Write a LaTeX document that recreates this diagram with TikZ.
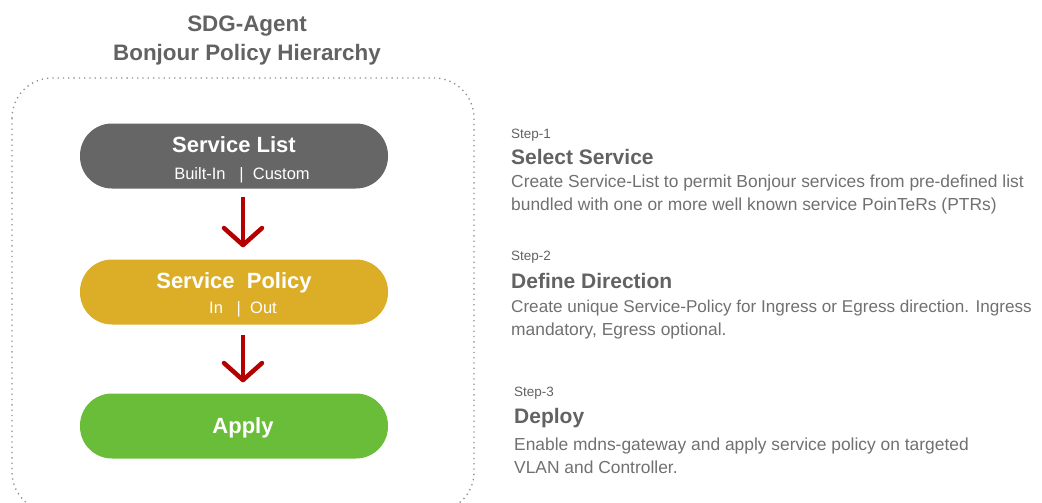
\documentclass[tikz,border=0pt]{standalone}
\usepackage{fontspec}
\setmainfont{Liberation Sans}
\usetikzlibrary{arrows.meta}
\definecolor{titlegray}{HTML}{626262}
\definecolor{descgray}{HTML}{707070}
\definecolor{pillgray}{HTML}{666666}
\definecolor{pillgold}{HTML}{DCAE28}
\definecolor{pillgreen}{HTML}{6ABD38}
\definecolor{arrowred}{HTML}{B40000}
\tikzset{
  pill/.style={rounded corners=32pt, minimum width=308pt, minimum height=65pt, inner sep=0pt, draw=none},
  pilltitle/.style={text=white, font=\fontsize{22}{24}\selectfont\bfseries, anchor=base, inner sep=0pt},
  pillsub/.style={text=white, font=\fontsize{16.5}{18}\selectfont, anchor=base, inner sep=0pt},
  flowarrow/.style={draw=arrowred, line width=4.5pt, -{Straight Barb[length=17pt,width=38pt,round]}},
  steplabel/.style={text=titlegray, font=\fontsize{13.5}{15}\selectfont, anchor=base west, inner sep=0pt},
  stephead/.style={text=titlegray, font=\fontsize{21}{23}\selectfont\bfseries, anchor=base west, inner sep=0pt},
  stepdesc/.style={text=descgray, font=\fontsize{17.4}{23}\selectfont, anchor=base west, inner sep=0pt},
  frame/.style={draw=gray!90, line width=1.3pt, dash pattern=on 1.3pt off 4pt, rounded corners=40pt},
  maintitle/.style={text=titlegray, font=\fontsize{22.4}{24}\selectfont\bfseries, anchor=base, inner sep=0pt}
}
\begin{document}
\begin{tikzpicture}[x=1pt,y=-1pt]
\useasboundingbox (0,0) rectangle (1042,503);
% title
\node[maintitle] (t1) at (247,32) {SDG-Agent};
\node[maintitle] (t2) at (247,61) {Bonjour Policy Hierarchy};
% frame
\begin{scope}
\clip (0,0) rectangle (1042,503);
\draw[frame] (12,78) rectangle (474,512);
\end{scope}
% pills
\node[pill, fill=pillgray] (sl) at (234,156) {};
\node[pilltitle] (slt) at (234,152) {Service List};
\node[pillsub] (sls) at (242,179) {Built-In\ \ \ |\ \ Custom};
\node[pill, fill=pillgold] (sp) at (234,292) {};
\node[pilltitle] (spt) at (234,288) {Service\ \ Policy};
\node[pillsub] (sps) at (243,313) {In\ \ \ |\ \ Out};
\node[pill, fill=pillgreen] (ap) at (234,426) {};
\node[pilltitle] (apt) at (243,433) {Apply};
% arrows
\draw[flowarrow] ([xshift=9pt,yshift=-8pt]sl.south) -- ([xshift=9pt,yshift=12pt]sp.north);
\draw[flowarrow] ([xshift=9pt,yshift=-10pt]sp.south) -- ([xshift=9pt,yshift=11pt]ap.north);
% steps
\node[steplabel] (s1) at (511,138) {Step-1};
\node[stephead] (h1) at (511,164) {Select Service};
\node[stepdesc] (d1a) at (511,187) {Create Service-List to permit Bonjour services from pre-defined list};
\node[stepdesc] (d1b) at (511,210) {bundled with one or more well known service PoinTeRs (PTRs)};
\node[steplabel] (s2) at (511,260) {Step-2};
\node[stephead] (h2) at (511,288) {Define Direction};
\node[stepdesc, font=\fontsize{17.1}{23}\selectfont] (d2a) at (511,312) {Create unique Service-Policy for Ingress or Egress direction. Ingress};
\node[stepdesc] (d2b) at (511,335) {mandatory, Egress optional.};
\node[steplabel] (s3) at (514,396) {Step-3};
\node[stephead] (h3) at (514,423) {Deploy};
\node[stepdesc] (d3a) at (514,450) {Enable mdns-gateway and apply service policy on targeted};
\node[stepdesc] (d3b) at (514,473) {VLAN and Controller.};
\end{tikzpicture}
\end{document}
